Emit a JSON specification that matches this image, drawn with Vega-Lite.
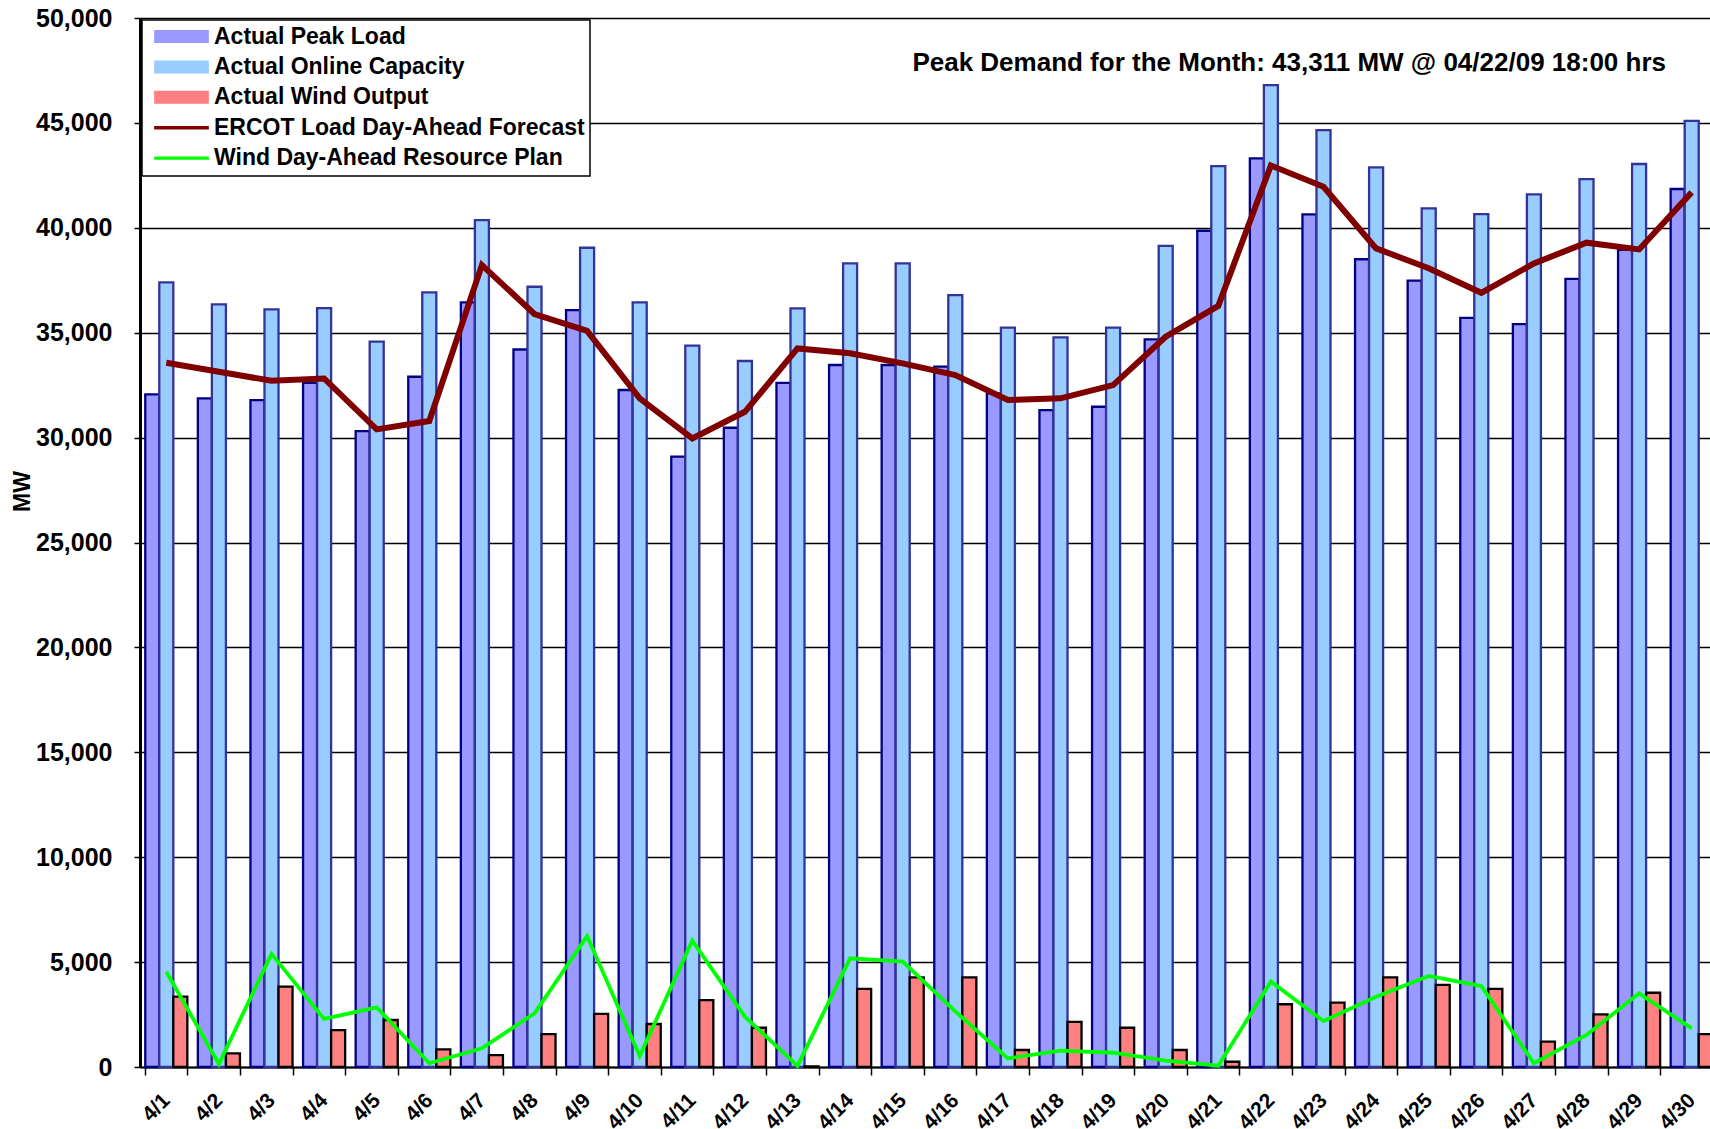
{
  "$schema": "https://vega.github.io/schema/vega-lite/v6.json",
  "autosize": {"type": "none"},
  "padding": {"left": 140, "top": 18, "right": 0, "bottom": 62},
  "width": 1570,
  "height": 1049,
  "background": "white",
  "title": {
    "text": "Peak Demand for the Month:  43,311  MW @ 04/22/09 18:00 hrs",
    "anchor": "end",
    "orient": "top",
    "offset": -70,
    "dx": -52,
    "font": "Liberation Sans",
    "fontSize": 26,
    "fontWeight": "bold",
    "color": "black"
  },
  "config": {
    "view": {"stroke": null},
    "font": "Liberation Sans"
  },
  "data": {
    "values": [
      {"d": "4/1", "Actual Peak Load": 32060, "Actual Online Capacity": 37400, "Actual Wind Output": 3350, "ERCOT Load Day-Ahead Forecast": 33570, "Wind Day-Ahead Resource Plan": 4540},
      {"d": "4/2", "Actual Peak Load": 31870, "Actual Online Capacity": 36350, "Actual Wind Output": 650, "ERCOT Load Day-Ahead Forecast": 33140, "Wind Day-Ahead Resource Plan": 140},
      {"d": "4/3", "Actual Peak Load": 31790, "Actual Online Capacity": 36110, "Actual Wind Output": 3830, "ERCOT Load Day-Ahead Forecast": 32710, "Wind Day-Ahead Resource Plan": 5390},
      {"d": "4/4", "Actual Peak Load": 32610, "Actual Online Capacity": 36170, "Actual Wind Output": 1760, "ERCOT Load Day-Ahead Forecast": 32820, "Wind Day-Ahead Resource Plan": 2290},
      {"d": "4/5", "Actual Peak Load": 30310, "Actual Online Capacity": 34570, "Actual Wind Output": 2240, "ERCOT Load Day-Ahead Forecast": 30390, "Wind Day-Ahead Resource Plan": 2840},
      {"d": "4/6", "Actual Peak Load": 32900, "Actual Online Capacity": 36920, "Actual Wind Output": 840, "ERCOT Load Day-Ahead Forecast": 30790, "Wind Day-Ahead Resource Plan": 180},
      {"d": "4/7", "Actual Peak Load": 36450, "Actual Online Capacity": 40370, "Actual Wind Output": 570, "ERCOT Load Day-Ahead Forecast": 38220, "Wind Day-Ahead Resource Plan": 890},
      {"d": "4/8", "Actual Peak Load": 34200, "Actual Online Capacity": 37190, "Actual Wind Output": 1570, "ERCOT Load Day-Ahead Forecast": 35890, "Wind Day-Ahead Resource Plan": 2560},
      {"d": "4/9", "Actual Peak Load": 36080, "Actual Online Capacity": 39050, "Actual Wind Output": 2530, "ERCOT Load Day-Ahead Forecast": 35090, "Wind Day-Ahead Resource Plan": 6240},
      {"d": "4/10", "Actual Peak Load": 32270, "Actual Online Capacity": 36450, "Actual Wind Output": 2050, "ERCOT Load Day-Ahead Forecast": 31870, "Wind Day-Ahead Resource Plan": 520},
      {"d": "4/11", "Actual Peak Load": 29090, "Actual Online Capacity": 34380, "Actual Wind Output": 3190, "ERCOT Load Day-Ahead Forecast": 29960, "Wind Day-Ahead Resource Plan": 6020},
      {"d": "4/12", "Actual Peak Load": 30470, "Actual Online Capacity": 33650, "Actual Wind Output": 1870, "ERCOT Load Day-Ahead Forecast": 31230, "Wind Day-Ahead Resource Plan": 2400},
      {"d": "4/13", "Actual Peak Load": 32610, "Actual Online Capacity": 36160, "Actual Wind Output": 30, "ERCOT Load Day-Ahead Forecast": 34250, "Wind Day-Ahead Resource Plan": 50},
      {"d": "4/14", "Actual Peak Load": 33460, "Actual Online Capacity": 38300, "Actual Wind Output": 3720, "ERCOT Load Day-Ahead Forecast": 34020, "Wind Day-Ahead Resource Plan": 5180},
      {"d": "4/15", "Actual Peak Load": 33460, "Actual Online Capacity": 38300, "Actual Wind Output": 4270, "ERCOT Load Day-Ahead Forecast": 33540, "Wind Day-Ahead Resource Plan": 5020},
      {"d": "4/16", "Actual Peak Load": 33380, "Actual Online Capacity": 36790, "Actual Wind Output": 4270, "ERCOT Load Day-Ahead Forecast": 32980, "Wind Day-Ahead Resource Plan": 2650},
      {"d": "4/17", "Actual Peak Load": 32110, "Actual Online Capacity": 35240, "Actual Wind Output": 810, "ERCOT Load Day-Ahead Forecast": 31790, "Wind Day-Ahead Resource Plan": 410},
      {"d": "4/18", "Actual Peak Load": 31310, "Actual Online Capacity": 34780, "Actual Wind Output": 2150, "ERCOT Load Day-Ahead Forecast": 31870, "Wind Day-Ahead Resource Plan": 780},
      {"d": "4/19", "Actual Peak Load": 31470, "Actual Online Capacity": 35240, "Actual Wind Output": 1870, "ERCOT Load Day-Ahead Forecast": 32500, "Wind Day-Ahead Resource Plan": 680},
      {"d": "4/20", "Actual Peak Load": 34680, "Actual Online Capacity": 39140, "Actual Wind Output": 810, "ERCOT Load Day-Ahead Forecast": 34810, "Wind Day-Ahead Resource Plan": 300},
      {"d": "4/21", "Actual Peak Load": 39860, "Actual Online Capacity": 42940, "Actual Wind Output": 250, "ERCOT Load Day-Ahead Forecast": 36280, "Wind Day-Ahead Resource Plan": 60},
      {"d": "4/22", "Actual Peak Load": 43311, "Actual Online Capacity": 46800, "Actual Wind Output": 2990, "ERCOT Load Day-Ahead Forecast": 42970, "Wind Day-Ahead Resource Plan": 4070},
      {"d": "4/23", "Actual Peak Load": 40640, "Actual Online Capacity": 44660, "Actual Wind Output": 3070, "ERCOT Load Day-Ahead Forecast": 41960, "Wind Day-Ahead Resource Plan": 2190},
      {"d": "4/24", "Actual Peak Load": 38500, "Actual Online Capacity": 42880, "Actual Wind Output": 4270, "ERCOT Load Day-Ahead Forecast": 39020, "Wind Day-Ahead Resource Plan": 3350},
      {"d": "4/25", "Actual Peak Load": 37480, "Actual Online Capacity": 40930, "Actual Wind Output": 3910, "ERCOT Load Day-Ahead Forecast": 38070, "Wind Day-Ahead Resource Plan": 4340},
      {"d": "4/26", "Actual Peak Load": 35710, "Actual Online Capacity": 40650, "Actual Wind Output": 3720, "ERCOT Load Day-Ahead Forecast": 36900, "Wind Day-Ahead Resource Plan": 3860},
      {"d": "4/27", "Actual Peak Load": 35410, "Actual Online Capacity": 41590, "Actual Wind Output": 1210, "ERCOT Load Day-Ahead Forecast": 38300, "Wind Day-Ahead Resource Plan": 180},
      {"d": "4/28", "Actual Peak Load": 37570, "Actual Online Capacity": 42320, "Actual Wind Output": 2510, "ERCOT Load Day-Ahead Forecast": 39290, "Wind Day-Ahead Resource Plan": 1530},
      {"d": "4/29", "Actual Peak Load": 38950, "Actual Online Capacity": 43040, "Actual Wind Output": 3540, "ERCOT Load Day-Ahead Forecast": 38970, "Wind Day-Ahead Resource Plan": 3510},
      {"d": "4/30", "Actual Peak Load": 41850, "Actual Online Capacity": 45100, "Actual Wind Output": 1570, "ERCOT Load Day-Ahead Forecast": 41690, "Wind Day-Ahead Resource Plan": 1840}
    ]
  },
  "encoding": {
    "x": {
      "field": "d",
      "type": "nominal",
      "sort": null,
      "scale": {"range": [0, 1578], "paddingInner": 0.2, "paddingOuter": 0.1},
      "axis": {
        "title": null,
        "domainColor": "black",
        "domainWidth": 2,
        "tickColor": "black",
        "tickWidth": 1.5,
        "tickSize": 8,
        "tickBand": "extent",
        "labelAngle": -45,
        "labelAlign": "right",
        "labelBaseline": "middle",
        "labelPadding": 22,
        "labelFont": "Liberation Sans",
        "labelFontSize": 21,
        "labelFontWeight": "bold",
        "labelColor": "black",
        "grid": false
      }
    }
  },
  "layer": [
    {
      "transform": [
        {"fold": ["Actual Peak Load", "Actual Online Capacity", "Actual Wind Output"], "as": ["series", "value"]}
      ],
      "mark": {"type": "bar", "strokeWidth": 2.3, "fillOpacity": 1},
      "encoding": {
        "xOffset": {
          "field": "series",
          "type": "nominal",
          "scale": {"domain": ["Actual Peak Load", "Actual Online Capacity", "Actual Wind Output"], "paddingInner": 0, "paddingOuter": 0}
        },
        "y": {
          "field": "value",
          "type": "quantitative",
          "scale": {"domain": [0, 50000], "nice": false},
          "axis": {
            "title": "MW",
            "titleFont": "Liberation Sans",
            "titleFontSize": 23,
            "titleFontWeight": "bold",
            "titleColor": "black",
            "titleAngle": -90,
            "titleX": -106,
            "titleY": 473,
            "values": [0, 5000, 10000, 15000, 20000, 25000, 30000, 35000, 40000, 45000, 50000],
            "format": ",.0f",
            "labelFont": "Liberation Sans",
            "labelFontSize": 25,
            "labelFontWeight": "bold",
            "labelColor": "black",
            "labelPadding": 22,
            "tickSize": 6,
            "tickColor": "black",
            "tickWidth": 1.5,
            "domainColor": "black",
            "domainWidth": 3,
            "grid": true,
            "gridColor": "black",
            "gridWidth": 1.3,
            "gridOpacity": 1
          }
        },
        "color": {
          "field": "series",
          "type": "nominal",
          "scale": {
            "domain": ["Actual Peak Load", "Actual Online Capacity", "Actual Wind Output", "ERCOT Load Day-Ahead Forecast", "Wind Day-Ahead Resource Plan"],
            "range": ["#9999FF", "#99CCFF", "#FF8080", "#800000", "#00FF00"]
          },
          "legend": {
            "title": null,
            "orient": "none",
            "legendX": 2,
            "legendY": 2,
            "padding": 5,
            "strokeColor": "black",
            "fillColor": "white",
            "symbolSize": 144,
            "symbolOffset": 23,
            "symbolStrokeWidth": 2,
            "symbolStrokeColor": {"expr": "datum.value == 'Actual Peak Load' ? '#000080' : datum.value == 'Actual Online Capacity' ? '#333399' : datum.value == 'Actual Wind Output' ? '#000000' : datum.value == 'ERCOT Load Day-Ahead Forecast' ? '#800000' : '#00FF00'"},
            "labelOffset": 21,
            "rowPadding": 6.4,
            "labelFont": "Liberation Sans",
            "labelFontSize": 23,
            "labelFontWeight": "bold",
            "labelColor": "black",
            "labelLimit": 600,
            "encoding": {
              "legend": {
                "strokeWidth": {"value": 1.5}
              },
              "symbols": {
                "shape": {"value": {"expr": "(datum.value == 'ERCOT Load Day-Ahead Forecast' || datum.value == 'Wind Day-Ahead Resource Plan') ? 'M-4.39,-0.12H4.39V0.12H-4.39Z' : 'M-4.39,-0.92H4.39V0.92H-4.39Z'"}},
                "fill": {"value": {"expr": "scale('color', datum.value)"}},
                "fillOpacity": {"value": 1},
                "stroke": {"value": {"expr": "datum.value == 'Actual Peak Load' ? '#000080' : datum.value == 'Actual Online Capacity' ? '#333399' : datum.value == 'Actual Wind Output' ? '#000000' : scale('color', datum.value)"}},
                "strokeWidth": {"value": 2},
                "strokeOpacity": {"value": 1},
                "opacity": {"value": 1}
              }
            }
          }
        },
        "stroke": {
          "field": "series",
          "type": "nominal",
          "scale": {
            "domain": ["Actual Peak Load", "Actual Online Capacity", "Actual Wind Output"],
            "range": ["#000080", "#333399", "#000000"]
          },
          "legend": null
        }
      }
    },
    {
      "mark": {"type": "line", "strokeWidth": 6},
      "encoding": {
        "y": {"field": "ERCOT Load Day-Ahead Forecast", "type": "quantitative"},
        "color": {"datum": "ERCOT Load Day-Ahead Forecast"}
      }
    },
    {
      "mark": {"type": "line", "strokeWidth": 3.8},
      "encoding": {
        "y": {"field": "Wind Day-Ahead Resource Plan", "type": "quantitative"},
        "color": {"datum": "Wind Day-Ahead Resource Plan"}
      }
    }
  ]
}
